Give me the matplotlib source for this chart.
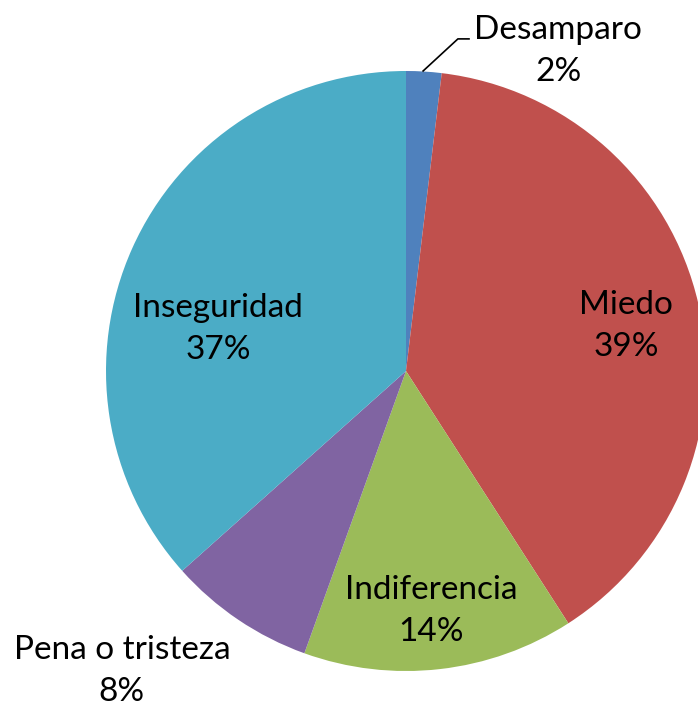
import matplotlib
matplotlib.use("Agg")
import matplotlib.pyplot as plt

categories = ["Desamparo", "Miedo", "Indiferencia", "Pena o tristeza", "Inseguridad"]
values = [1.9, 39.0, 14.6, 7.9, 36.6]
pct_labels = ["2%", "39%", "14%", "8%", "37%"]
colors = ["#4F81BD", "#C0504D", "#9BBB59", "#8064A2", "#4BACC6"]

plt.rcParams['font.family'] = ['Lato', 'DejaVu Sans']

W, H = 698, 708
fig = plt.figure(figsize=(W / 100, H / 100), dpi=100)
cx, cy, r = 406, 371, 300
ax = fig.add_axes([(cx - r) / W, (H - cy - r) / H, 2 * r / W, 2 * r / H])
ax.pie(values, colors=colors, startangle=90, counterclock=False,
       radius=1, wedgeprops=dict(linewidth=0))
ax.set_xlim(-1, 1)
ax.set_ylim(-1, 1)
ax.set_aspect('equal')
ax.axis('off')

# label positions (data coords, radius = 1)
label_pos = [(0.507, 1.068), (0.733, 0.15), (0.083, -0.80), (-0.947, -1.0), (-0.627, 0.14)]
fs = 24
for cat, pct, (x, y) in zip(categories, pct_labels, label_pos):
    ax.text(x, y, f"{cat}\n{pct}", ha='center', va='center', fontsize=fs,
            linespacing=1.5, color='black', clip_on=False)

# leader line for Desamparo
ax.plot([0.057, 0.173, 0.21], [1.0, 1.107, 1.107], color='black', lw=1.2,
        clip_on=False)

fig.savefig("out.png", dpi=100)
